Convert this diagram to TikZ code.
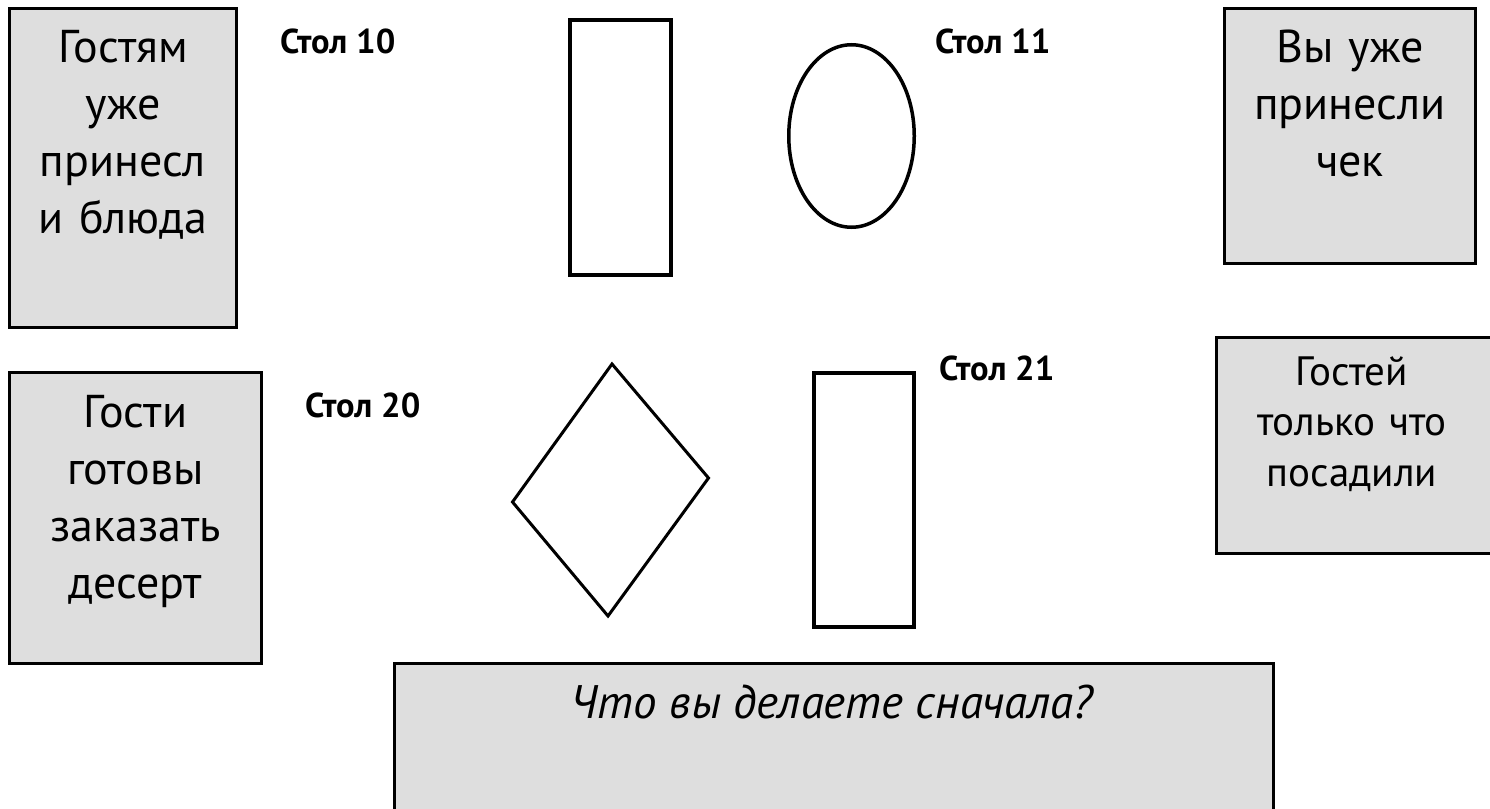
\documentclass[tikz,border=0pt]{standalone}
\usepackage{fontspec}
\setmainfont{PT Sans}
\usetikzlibrary{shapes.geometric}
\definecolor{panelgray}{RGB}{222,222,222}
\begin{document}
\begin{tikzpicture}[x=1pt,y=-1pt,
  panel/.style={draw=black, fill=panelgray, line width=3pt, inner sep=0pt, rectangle},
  tablerect/.style={draw=black, line width=4pt, inner sep=0pt, rectangle},
  note/.style={anchor=base, align=center, text width=#1, inner sep=0pt,
               font=\fontsize{46}{57}\selectfont},
  smallnote/.style={anchor=base, align=center, text width=#1, inner sep=0pt,
               font=\fontsize{41}{50.5}\selectfont},
  tag/.style={anchor=base west, inner sep=0pt, font=\fontsize{34.5}{40}\selectfont\bfseries}]
\useasboundingbox (0,0) rectangle (1490,808);

% grey situation cards
\node[panel, minimum width=227pt, minimum height=318.5pt] (card10) at (123,167.75) {};
\node[panel, minimum width=251pt, minimum height=255pt] (card11) at (1350,136) {};
\node[panel, minimum width=252pt, minimum height=291pt] (card20) at (135.5,518) {};
\node[panel, minimum width=278.5pt, minimum height=216pt] (card21) at (1355.75,445.5) {};
\node[panel, minimum width=879pt, minimum height=156.5pt] (question) at (834,741.75) {};

% card texts
\node[note=220pt] (txt10) at (123,63) {Гостям\\уже\\принесл\\и блюда};
\node[note=240pt] (txt11) at (1350,63) {Вы уже\\принесли\\чек};
\node[note=240pt] (txt20) at (135.5,427) {Гости\\готовы\\заказать\\десерт};
\node[smallnote=260pt] (txt21) at (1352,385) {Гостей\\только что\\посадили};
\node[anchor=base, inner sep=0pt, font=\fontsize{47}{55}\selectfont\itshape] (qtxt) at (832,718) {Что вы делаете сначала?};

% table shapes
\node[tablerect, minimum width=101pt, minimum height=255pt] (t10) at (620.5,147.5) {};
\node[draw=black, line width=3.5pt, ellipse, inner sep=0pt,
      minimum width=125.5pt, minimum height=182.5pt] (t11) at (851.5,136) {};
\coordinate (dtop) at (612,364);
\coordinate (dright) at (708.5,478);
\coordinate (dbottom) at (608,616);
\coordinate (dleft) at (512.5,502);
\draw[line width=3pt] (dtop) -- (dright) -- (dbottom) -- (dleft) -- cycle;
\node[tablerect, minimum width=100pt, minimum height=254pt] (t21) at (864,500) {};

% table labels
\node[tag] (lab10) at (280,53) {Стол 10};
\node[tag] (lab11) at (935,53) {Стол 11};
\node[tag] (lab20) at (305,417) {Стол 20};
\node[tag] (lab21) at (939,380) {Стол 21};
\end{tikzpicture}
\end{document}
